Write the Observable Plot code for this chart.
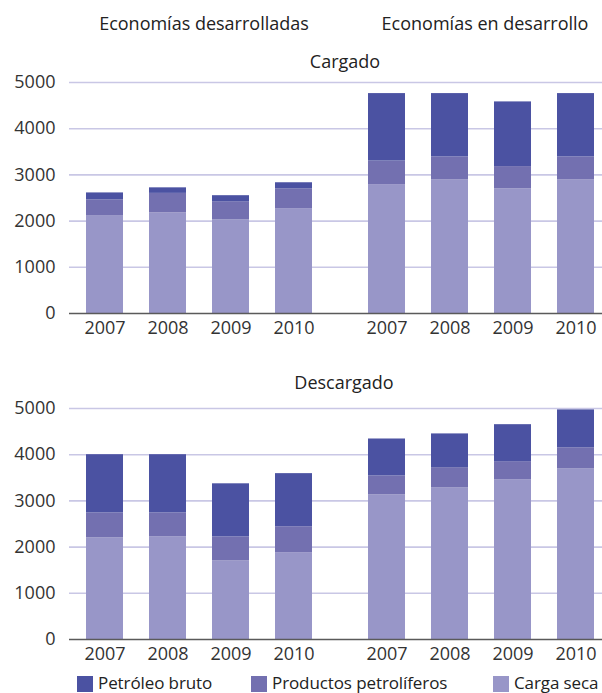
<!DOCTYPE html>
<html>
<head>
<meta charset="utf-8">
<script src="https://cdn.jsdelivr.net/npm/d3@7"></script>
<script src="https://cdn.jsdelivr.net/npm/@observablehq/plot@0.6"></script>
<style>
html, body { margin: 0; padding: 0; background: #fff; overflow: hidden; }
#root { position: relative; width: 602px; height: 693px; overflow: hidden; font-family: "Open Sans", sans-serif; color: #222; font-size: 18px; }
.lbl { position: absolute; white-space: nowrap; line-height: 1; transform: translateX(-50%); }
.panel { position: absolute; left: 0; max-width: none !important; }
.leg { position: absolute; white-space: nowrap; line-height: 1; font-size: 17px; letter-spacing: -0.1px; }
.sw { position: absolute; width: 16px; height: 16px; }
</style>
</head>
<body>
<div id="root"></div>
<script>
// ---- data ----
const groups = ["Economías desarrolladas", "Economías en desarrollo"];
const years = ["2007", "2008", "2009", "2010"];
const series = ["Carga seca", "Productos petrolíferos", "Petróleo bruto"]; // stacking order (bottom -> top)
const legendOrder = ["Petróleo bruto", "Productos petrolíferos", "Carga seca"];
const colors = ["#9896c8", "#7370b0", "#4b52a2"];
const yTicks = [0, 1000, 2000, 3000, 4000, 5000];

// Cargado
const cargadoDevSeca = [2120, 2180, 2030, 2270];
const cargadoDevProd = [340, 420, 390, 430];
const cargadoDevPetr = [150, 120, 130, 130];
const cargadoDvgSeca = [2790, 2890, 2700, 2890];
const cargadoDvgProd = [510, 500, 480, 500];
const cargadoDvgPetr = [1460, 1370, 1400, 1370];

// Descargado
const descDevSeca = [2200, 2220, 1700, 1880];
const descDevProd = [540, 520, 520, 560];
const descDevPetr = [1260, 1260, 1150, 1150];
const descDvgSeca = [3130, 3280, 3460, 3690];
const descDvgProd = [410, 440, 390, 460];
const descDvgPetr = [800, 730, 800, 820];

function buildRows(dev, dvg) {
  const rows = [];
  [dev, dvg].forEach((grp, gi) => {
    grp.forEach((vals, si) => {
      vals.forEach((v, yi) => rows.push({group: groups[gi], year: years[yi], series: series[si], value: v}));
    });
  });
  return rows;
}
const cargadoRows = buildRows([cargadoDevSeca, cargadoDevProd, cargadoDevPetr], [cargadoDvgSeca, cargadoDvgProd, cargadoDvgPetr]);
const descRows = buildRows([descDevSeca, descDevProd, descDevPetr], [descDvgSeca, descDvgProd, descDvgPetr]);

const gridColor = "#c9c7e5";

function panel(rows) {
  const gridDev = yTicks.filter(d => d > 0).map(v => ({v, g: groups[0]}));
  const gridDvg = yTicks.filter(d => d > 0).map(v => ({v, g: groups[1]}));
  return Plot.plot({
    width: 622,
    height: 273,
    marginLeft: 58,
    marginRight: 0,
    marginTop: 12,
    marginBottom: 30,
    style: {fontFamily: "Open Sans, sans-serif", fontSize: "18px", color: "#333", background: "transparent", maxWidth: "none"},
    fx: {domain: groups, padding: 0, axis: null, label: null},
    x: {domain: years, paddingInner: 0.41, paddingOuter: 0.425, label: null, tickSize: 0, tickPadding: 8},
    y: {domain: [0, 5000], ticks: yTicks, tickSize: 0, tickPadding: 3, label: null, tickFormat: d => String(d)},
    color: {domain: series, range: colors},
    marks: [
      Plot.ruleY(gridDev, {y: "v", fx: "g", stroke: gridColor, strokeWidth: 1.6, insetLeft: 11}),
      Plot.ruleY(gridDvg, {y: "v", fx: "g", stroke: gridColor, strokeWidth: 1.6}),
      Plot.barY(rows, {fx: "group", x: "year", y: "value", fill: "series"}),
      Plot.ruleY([{v: 0, g: groups[0]}], {y: "v", fx: "g", stroke: "#5a5a5a", strokeWidth: 1.6, insetLeft: 11}),
      Plot.ruleY([{v: 0, g: groups[1]}], {y: "v", fx: "g", stroke: "#5a5a5a", strokeWidth: 1.6})
    ]
  });
}

const root = document.getElementById("root");
function addLabel(text, cx, top) {
  const d = document.createElement("div");
  d.className = "lbl";
  d.textContent = text;
  d.style.left = cx + "px";
  d.style.top = top + "px";
  root.appendChild(d);
}
addLabel(groups[0], 204, 14);
addLabel(groups[1], 485, 14);
addLabel("Cargado", 345, 52);

const p1 = panel(cargadoRows);
p1.classList.add("panel");
p1.style.top = "70px";
root.appendChild(p1);

addLabel("Descargado", 344, 373);

const p2 = panel(descRows);
p2.classList.add("panel");
p2.style.top = "395.7px";
root.appendChild(p2);

// legend
const legX = [77, 251, 493];
legendOrder.forEach((s, i) => {
  const sw = document.createElement("div");
  sw.className = "sw";
  sw.style.left = legX[i] + "px";
  sw.style.top = "676px";
  sw.style.background = colors[series.indexOf(s)];
  root.appendChild(sw);
  const t = document.createElement("div");
  t.className = "leg";
  t.textContent = s;
  t.style.left = (legX[i] + 21) + "px";
  t.style.top = "674px";
  root.appendChild(t);
});
</script>
</body>
</html>
